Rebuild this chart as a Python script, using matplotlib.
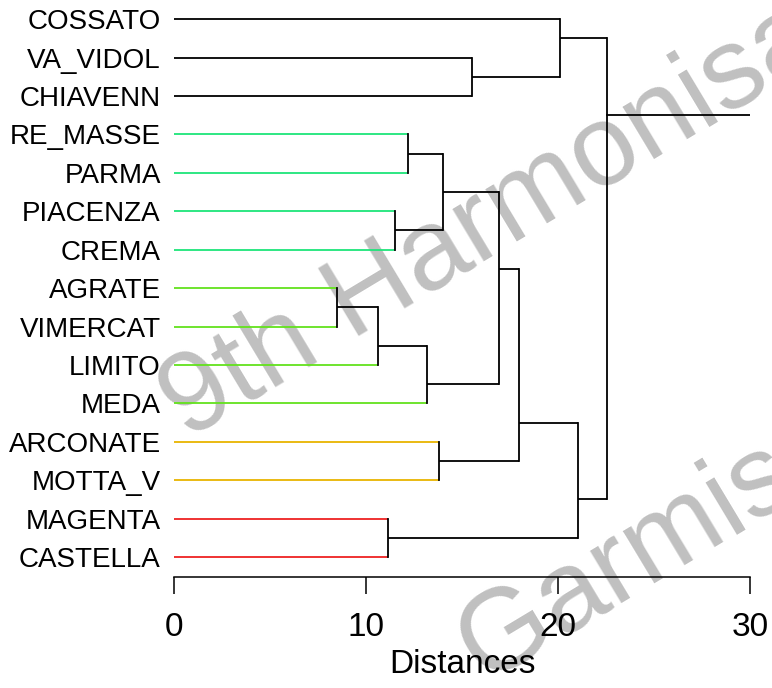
import matplotlib
matplotlib.use("Agg")
import matplotlib.pyplot as plt

plt.rcParams['font.family'] = ['Liberation Sans', 'DejaVu Sans']

# leaves, top to bottom
labels = ["COSSATO", "VA_VIDOL", "CHIAVENN", "RE_MASSE", "PARMA", "PIACENZA",
          "CREMA", "AGRATE", "VIMERCAT", "LIMITO", "MEDA", "ARCONATE",
          "MOTTA_V", "MAGENTA", "CASTELLA"]
leaf_colors = ["black", "black", "black",
               "#1ee57a", "#1ee57a", "#1ee57a", "#1ee57a",
               "#62e21c", "#62e21c", "#62e21c", "#62e21c",
               "#e8b400", "#e8b400",
               "#ee2222", "#ee2222"]

# merges: (child a, child b, distance); new cluster ids start at 15
merges = [
    (1, 2, 15.5),
    (0, 15, 20.1),
    (3, 4, 12.2),
    (5, 6, 11.5),
    (17, 18, 14.0),
    (7, 8, 8.5),
    (20, 9, 10.6),
    (21, 10, 13.2),
    (19, 22, 16.95),
    (11, 12, 13.8),
    (23, 24, 17.95),
    (13, 14, 11.15),
    (25, 26, 21.05),
    (16, 27, 22.55),
]
xticks = [0, 10, 20, 30]

n = len(labels)
fig = plt.figure(figsize=(7.72, 6.88), dpi=100)
ax = fig.add_axes([174 / 772, 1 - 577 / 688, 576 / 772, 577 / 688])
ax.patch.set_visible(False)

# node info: height, y position, first leaf, last leaf
height = {i: 0.0 for i in range(n)}
ypos = {i: float(i) for i in range(n)}
first = {i: i for i in range(n)}
last = {i: i for i in range(n)}

for k, (a, b, h) in enumerate(merges):
    node = n + k
    for c in (a, b):
        col = leaf_colors[c] if c < n else "black"
        ax.plot([height[c], h], [ypos[c], ypos[c]], color=col, lw=1.3,
                solid_capstyle="butt")
    ax.plot([h, h], [ypos[a], ypos[b]], color="black", lw=1.3,
            solid_capstyle="projecting")
    height[node] = h
    first[node] = first[a]
    last[node] = last[b]
    ypos[node] = (last[a] + first[b]) / 2.0

root = n + len(merges) - 1
ax.plot([height[root], 30], [ypos[root], ypos[root]], color="black", lw=1.3)

ax.set_xlim(0, 30)
ax.set_ylim(n - 1 + 0.52, -0.5)
ax.set_yticks(range(n))
ax.set_yticklabels(labels)
ax.set_xticks(xticks)
ax.tick_params(axis="y", length=0, pad=9.5, labelsize=20)
ax.tick_params(axis="x", length=12.5, width=1.1, pad=13, labelsize=24)
for s in ["top", "right", "left"]:
    ax.spines[s].set_visible(False)
ax.spines["bottom"].set_bounds(0, 30)
ax.spines["bottom"].set_linewidth(1.1)
ax.set_xlabel("Distances", fontsize=24, labelpad=4)

# watermark
fig.text(186 / 772, 1 - 440 / 688, "9th Harmonisation", rotation=31,
         rotation_mode="anchor", ha="left", va="baseline", fontsize=83,
         color="#c0c0c0", zorder=-1)
fig.text(483 / 772, 1 - 683 / 688, "Garmisch-Partenkirchen", rotation=31,
         rotation_mode="anchor", ha="left", va="baseline", fontsize=83,
         color="#c0c0c0", zorder=-1)

fig.savefig("out.png", dpi=100)
